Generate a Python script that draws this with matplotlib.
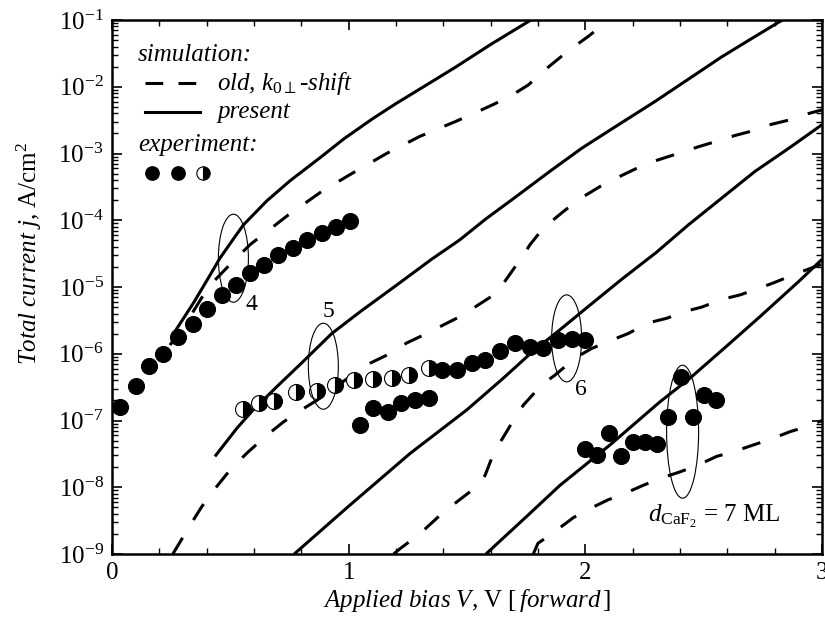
import numpy as np
import matplotlib
matplotlib.use("Agg")
import matplotlib.pyplot as plt
from matplotlib.patches import Ellipse
from matplotlib.lines import Line2D
import matplotlib.transforms as mtransforms
from matplotlib.ticker import MultipleLocator, LogLocator, NullFormatter

plt.rcParams['font.family'] = ['Liberation Serif', 'DejaVu Serif']
plt.rcParams['mathtext.fontset'] = 'custom'
plt.rcParams['mathtext.rm'] = 'Liberation Serif'
plt.rcParams['mathtext.it'] = 'Liberation Serif:italic'
plt.rcParams['mathtext.bf'] = 'Liberation Serif:bold'

# ---------------- data ----------------
# simulation, present (solid)
sol4_x = [0.26, 0.344, 0.414, 0.456, 0.513, 0.555, 0.654, 0.752, 0.88, 0.98, 1.1, 1.2, 1.33, 1.45, 1.60, 1.77]
sol4_j = [2.0e-6, 5.75e-6, 1.5e-5, 2.7e-5, 5.25e-5, 8.5e-5, 1.95e-4, 3.9e-4, 8.7e-4, 1.66e-3, 3.3e-3,
          5.6e-3, 1.07e-2, 1.95e-2, 4.3e-2, 1.0e-1]

sol5_x = [0.435, 0.527, 0.597, 0.70, 0.80, 0.928, 1.05, 1.2, 1.35, 1.47, 1.58, 1.703, 1.85, 1.985, 2.14,
          2.294, 2.43, 2.576, 2.70, 2.822, 2.835]
sol5_j = [2.9e-8, 7.6e-8, 1.45e-7, 3.3e-7, 7.2e-7, 2.0e-6, 4.3e-6, 1.05e-5, 2.6e-5, 5.1e-5, 1.05e-4, 2.2e-4,
          5.4e-4, 1.2e-3, 2.7e-3, 6.0e-3, 1.26e-2, 2.8e-2, 5.2e-2, 9.5e-2, 1.0e-1]

sol6_x = [0.77, 1.0, 1.259, 1.5, 1.65, 1.78, 1.90, 2.0, 2.153, 2.30, 2.435, 2.58, 2.717, 2.86, 3.0]
sol6_j = [1.0e-9, 5.2e-9, 3.2e-8, 1.45e-7, 4.2e-7, 1.1e-6, 2.4e-6, 4.7e-6, 1.3e-5, 3.3e-5, 8.5e-5, 2.2e-4,
          5.4e-4, 1.2e-3, 2.7e-3]

sol7_x = [1.58, 1.75, 1.893, 2.104, 2.315, 2.442, 2.597, 2.738, 2.907, 3.0]
sol7_j = [1.0e-9, 3.6e-9, 1.07e-8, 4.3e-8, 1.9e-7, 4.3e-7, 1.3e-6, 3.6e-6, 1.26e-5, 2.6e-5]

# simulation, old k0-shift (dashed)
das4_x = [0.245, 0.33, 0.407, 0.50, 0.583, 0.738, 0.886, 1.0, 1.16, 1.30, 1.45, 1.53, 1.61, 1.68, 1.76,
          1.83, 1.93, 2.01, 2.10]
das4_j = [1.35e-6, 3.6e-6, 1.0e-5, 2.2e-5, 4.3e-5, 1.15e-4, 2.7e-4, 4.7e-4, 1.0e-3, 1.8e-3, 3.0e-3, 4.0e-3,
          5.4e-3, 7.1e-3, 1.07e-2, 1.8e-2, 3.5e-2, 5.6e-2, 1.0e-1]

das5_x = [0.257, 0.287, 0.33, 0.379, 0.435, 0.506, 0.576, 0.654, 0.724, 0.808, 0.865, 1.0, 1.09, 1.16,
          1.245, 1.315, 1.40, 1.47, 1.548, 1.625, 1.689, 1.738, 1.766, 1.822, 1.907, 1.977, 2.062, 2.132,
          2.217, 2.287, 2.372, 2.477, 2.562, 2.632, 2.71, 2.78, 2.865, 2.935, 3.0]
das5_j = [1.0e-9, 1.5e-9, 2.7e-9, 5.1e-9, 9.5e-9, 1.95e-8, 3.4e-8, 6.0e-8, 9.5e-8, 1.5e-7, 2.0e-7, 4.4e-7,
          7.2e-7, 9.5e-7, 1.45e-6, 1.9e-6, 2.7e-6, 3.6e-6, 5.4e-6, 8.1e-6, 1.7e-5, 3.0e-5, 4.3e-5, 7.6e-5,
          1.35e-4, 2.1e-4, 3.2e-4, 4.3e-4, 6.0e-4, 7.6e-4, 9.5e-4, 1.26e-3, 1.55e-3, 1.86e-3, 2.2e-3,
          2.7e-3, 3.2e-3, 3.9e-3, 4.5e-3]

das6_x = [1.19, 1.217, 1.30, 1.386, 1.456, 1.541, 1.576, 1.604, 1.646, 1.689, 1.738, 1.815, 1.872, 1.963,
          2.027, 2.111, 2.18, 2.266, 2.344, 2.421, 2.492, 2.576, 2.653, 2.731, 2.794, 2.914, 3.0]
das6_j = [1.0e-9, 1.2e-9, 2.0e-9, 3.8e-9, 6.0e-9, 1.02e-8, 1.5e-8, 2.7e-8, 5.1e-8, 9.1e-8, 1.7e-7, 3.4e-7,
          4.8e-7, 8.9e-7, 1.2e-6, 1.6e-6, 2.0e-6, 2.9e-6, 3.4e-6, 4.3e-6, 5.0e-6, 6.5e-6, 7.6e-6, 9.5e-6,
          1.15e-5, 1.7e-5, 2.2e-5]

das7_x = [1.78, 1.80, 1.858, 1.949, 2.02, 2.097, 2.167, 2.245, 2.315, 2.40, 2.47, 2.555, 2.625, 2.71,
          2.78, 2.865, 2.935, 3.0]
das7_j = [1.0e-9, 1.45e-9, 2.0e-9, 3.5e-9, 4.8e-9, 6.5e-9, 8.1e-9, 1.07e-8, 1.35e-8, 1.7e-8, 2.1e-8,
          2.9e-8, 3.4e-8, 4.3e-8, 5.2e-8, 6.8e-8, 8.1e-8, 1.0e-7]

# experiment
exp4_x = [0.034, 0.101, 0.158, 0.217, 0.28, 0.341, 0.403, 0.463, 0.524, 0.583, 0.642, 0.703, 0.763,
          0.825, 0.886, 0.946, 1.005]
exp4_j = [1.6e-7, 3.3e-7, 6.5e-7, 1.0e-6, 1.8e-6, 2.75e-6, 4.7e-6, 7.5e-6, 1.08e-5, 1.6e-5, 2.15e-5,
          3.0e-5, 3.9e-5, 5.0e-5, 6.5e-5, 7.9e-5, 9.7e-5]

exp5_half_x = [0.555, 0.621, 0.684, 0.777, 0.865, 0.942, 1.024, 1.104, 1.181, 1.255, 1.34]
exp5_half_j = [1.5e-7, 1.85e-7, 1.95e-7, 2.65e-7, 2.8e-7, 3.35e-7, 4.0e-7, 4.2e-7, 4.4e-7, 4.8e-7, 6.2e-7]

exp5_x = [1.048, 1.104, 1.167, 1.222, 1.28, 1.34]
exp5_j = [8.6e-8, 1.53e-7, 1.33e-7, 1.85e-7, 2.0e-7, 2.2e-7]

exp6_x = [1.393, 1.456, 1.52, 1.576, 1.64, 1.703, 1.766, 1.822, 1.886, 1.942, 2.0]
exp6_j = [5.7e-7, 5.7e-7, 7.2e-7, 8.05e-7, 1.11e-6, 1.43e-6, 1.28e-6, 1.2e-6, 1.6e-6, 1.65e-6, 1.6e-6]

exp7_x = [1.998, 2.051, 2.101, 2.151, 2.2, 2.252, 2.301, 2.35, 2.403, 2.453, 2.503, 2.552]
exp7_j = [3.8e-8, 3.05e-8, 6.6e-8, 2.9e-8, 4.8e-8, 4.8e-8, 4.45e-8, 1.14e-7, 4.5e-7, 1.11e-7, 2.4e-7, 2.0e-7]

# ellipse centres (x, j) and curve labels
ell_x = [0.513, 0.893, 1.921, 2.411]
ell_j = [2.7e-5, 6.5e-7, 1.7e-6, 6.8e-8]
lab_text = ['4', '5', '6']
lab_x = [0.59, 0.914, 1.98]
lab_j = [5.4e-6, 4.3e-6, 2.9e-7]

# ---------------- figure ----------------
W, H = 825, 625
fig = plt.figure(figsize=(W / 100, H / 100), dpi=100)
ax = fig.add_axes([112 / W, 1 - 554 / H, 710 / W, 534 / H])

LW = 2.2
DASH = [6.2, 6.8]
for xs, js in [(sol4_x, sol4_j), (sol5_x, sol5_j), (sol6_x, sol6_j), (sol7_x, sol7_j)]:
    ax.plot(xs, js, color='black', lw=LW, solid_capstyle='butt', solid_joinstyle='round', zorder=2)
for xs, js in [(das4_x, das4_j), (das5_x, das5_j), (das6_x, das6_j), (das7_x, das7_j)]:
    ax.plot(xs, js, color='black', lw=LW, dashes=DASH, dash_capstyle='butt', zorder=2)

MS = 11.5
for xs, js in [(exp4_x, exp4_j), (exp5_x, exp5_j), (exp6_x, exp6_j), (exp7_x, exp7_j)]:
    ax.plot(xs, js, 'o', ms=MS, mfc='black', mec='black', mew=0.8, zorder=3)
ax.plot(exp5_half_x, exp5_half_j, 'o', ms=MS, fillstyle='right', mfc='black',
        mfcalt='white', mec='black', mew=0.8, zorder=3)

# ellipses (fixed size in pixels)
ell_size = [(30, 88), (30, 86), (30, 87), (32, 133)]
for (xc, jc), (w, h) in zip(zip(ell_x, ell_j), ell_size):
    tr = fig.dpi_scale_trans + mtransforms.ScaledTranslation(xc, jc, ax.transData)
    ax.add_patch(Ellipse((0, 0), w / 100, h / 100, transform=tr, fill=False,
                         lw=0.8, ec='black', zorder=4))

for t, x, j in zip(lab_text, lab_x, lab_j):
    ax.text(x, j, t, fontsize=17, ha='center', va='center')
ax.text(2.266, 3.0e-9, r'$d_{\mathrm{CaF}_2}$ = 7 ML', fontsize=18, ha='left', va='baseline')

ax.set_xlim(0, 3)
ax.set_yscale('log')
ax.set_ylim(1e-9, 1e-1)

ax.xaxis.set_major_locator(MultipleLocator(1))
ax.xaxis.set_minor_locator(MultipleLocator(0.2))
ax.yaxis.set_major_locator(LogLocator(base=10, numticks=20))
ax.yaxis.set_minor_locator(LogLocator(base=10, subs=np.arange(2, 10), numticks=100))
ax.yaxis.set_minor_formatter(NullFormatter())
ax.tick_params(which='both', direction='in', top=True, right=True, labelsize=18, pad=6)
ax.tick_params(which='major', length=7, width=1.2)
ax.tick_params(which='minor', length=4.5, width=1.0)
for s in ax.spines.values():
    s.set_linewidth(1.8)

ax.set_xlabel(r'$\mathit{Applied\ bias\ V}$, V [$\,\mathit{forward}\,$]', fontsize=18)
ax.xaxis.set_label_coords(0.5, -0.062)
ax.set_ylabel(r'$\mathit{Total\ current\ j}$, A/cm$^2$', fontsize=18)
ax.yaxis.set_label_coords(-0.096, 0.564)

# legend drawn by hand
ta = ax.transAxes
ax.text(0.0366, 0.934, 'simulation:', transform=ta, fontsize=18, style='italic', va='center')
ax.add_line(Line2D([0.0465, 0.124], [0.882, 0.882], transform=ta, color='black', lw=LW,
                   dashes=[5.8, 5.0], dash_capstyle='butt'))
ax.text(0.148, 0.882, r'old, $k_{0\perp}$-shift', transform=ta, fontsize=18, style='italic', va='center')
ax.add_line(Line2D([0.0465, 0.124], [0.828, 0.828], transform=ta, color='black', lw=LW))
ax.text(0.148, 0.828, 'present', transform=ta, fontsize=18, style='italic', va='center')
ax.text(0.0366, 0.766, 'experiment:', transform=ta, fontsize=18, style='italic', va='center')
ax.plot([0.056, 0.093], [0.713, 0.713], 'o', transform=ta, ms=9.6, mfc='black', mec='black',
        clip_on=False)
ax.plot([0.128], [0.713], 'o', transform=ta, ms=9.6, fillstyle='right', mfc='black',
        mfcalt='white', mec='black', mew=0.8, clip_on=False)

fig.savefig('out.png', dpi=100)
